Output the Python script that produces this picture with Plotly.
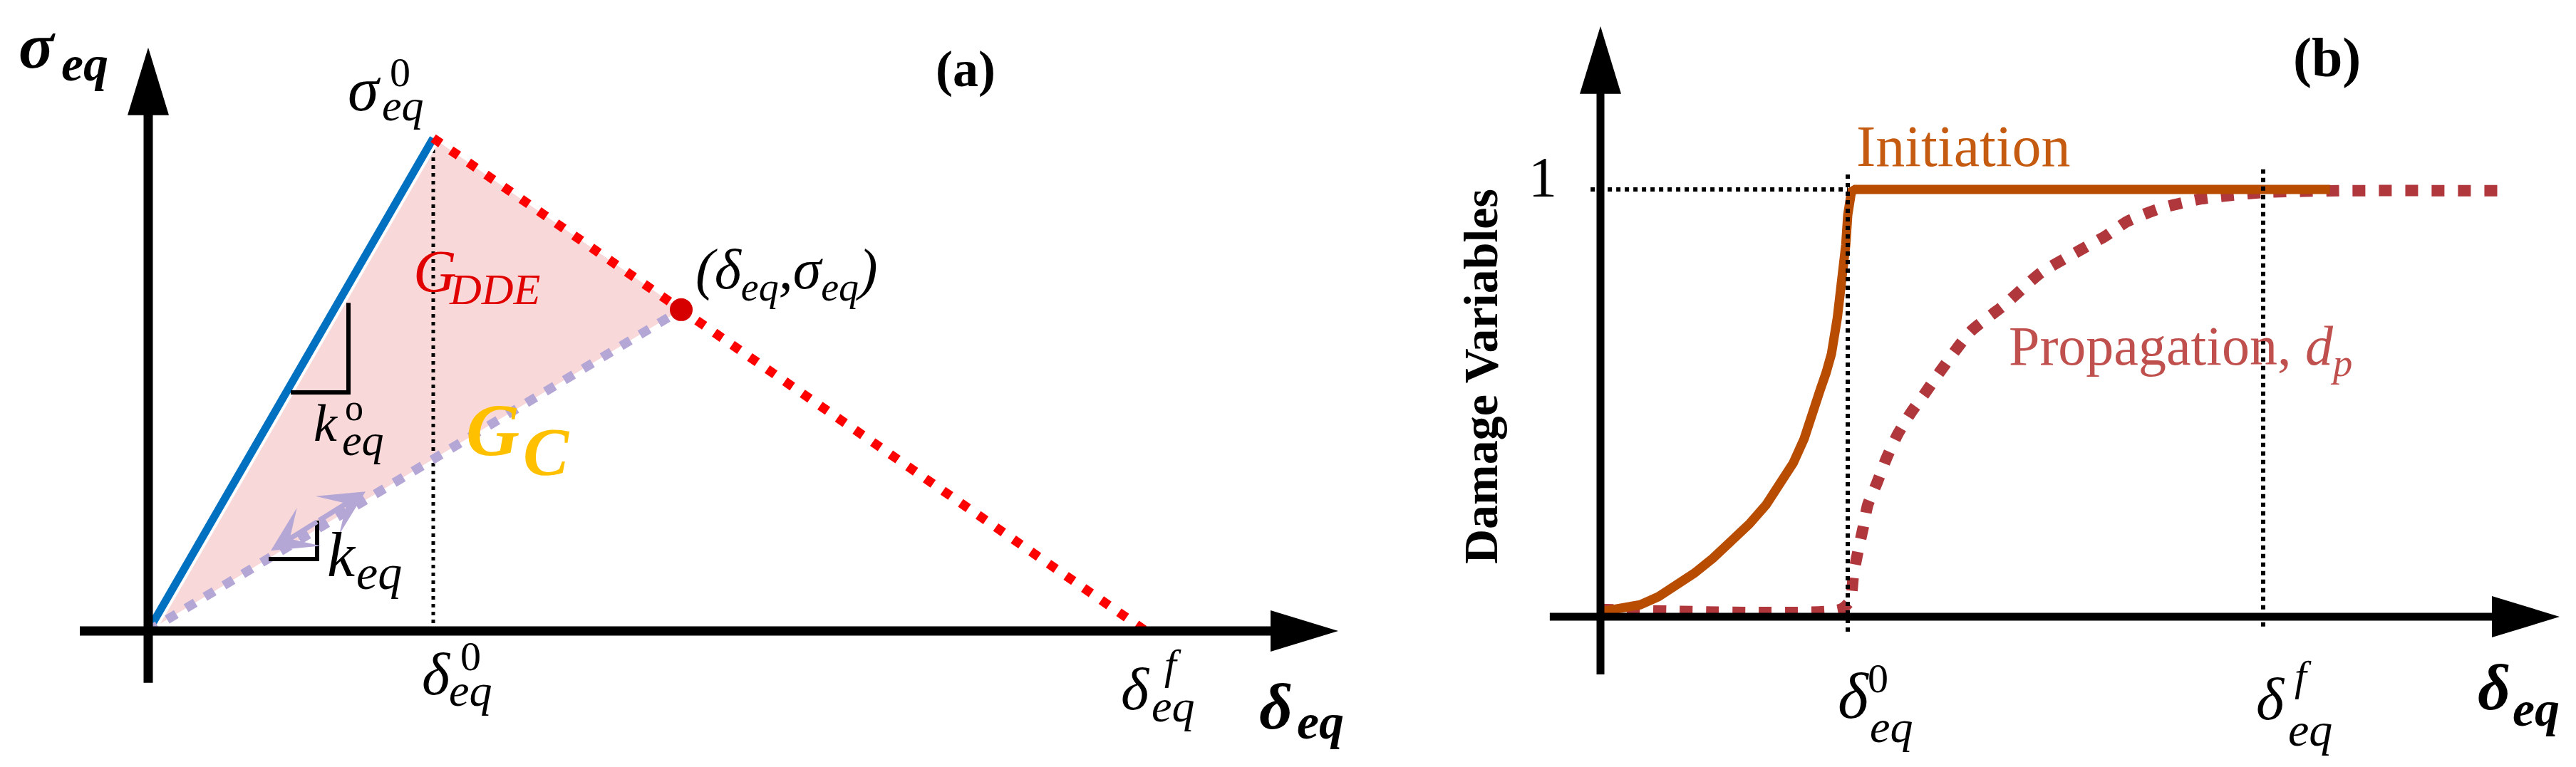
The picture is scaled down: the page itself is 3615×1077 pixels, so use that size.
import plotly.graph_objects as go

FIG_W, FIG_H = 3615, 1077
SERIF = "Liberation Serif"

# ---------------- Panel (a): traction-separation law ----------------
DELTA0_A = 1.0            # δ⁰_eq  (damage onset)
SIGMA0_A = 1.0            # σ⁰_eq  (onset stress)
DELTAF_A = 3.5            # δ^f_eq (final separation)
POINT_A_X = 1.87          # current state δ_eq
POINT_A_Y = 0.652         # current state σ_eq

ELASTIC_X = [0.0, DELTA0_A]
ELASTIC_Y = [0.0, SIGMA0_A]
SOFT_X = [DELTA0_A, DELTAF_A]
SOFT_Y = [SIGMA0_A, 0.0]
UNLOAD_X = [0.0, POINT_A_X]
UNLOAD_Y = [0.0, POINT_A_Y]
AREA_X = [0.0, DELTA0_A, POINT_A_X, 0.0]
AREA_Y = [0.0, SIGMA0_A, POINT_A_Y, 0.0]

AXIS_A_X = [-0.24, 4.175]
AXIS_A_Y = [-0.105, 1.184]

SLOPE0_X = [0.50, 0.7025, 0.7025]
SLOPE0_Y = [0.484, 0.484, 0.666]
SLOPE_X = [0.4225, 0.5925, 0.5925]
SLOPE_Y = [0.146, 0.146, 0.224]
ARROW_MID = (0.596, 0.223)
ARROW_UP = (0.7625, 0.283)
ARROW_DOWN = (0.43, 0.163)

# ---------------- Panel (b): damage variables ----------------
DELTA0_B = 1.0
DELTAF_B = 2.68
INIT_X = [0.0, 0.08, 0.161, 0.235, 0.308, 0.38, 0.455, 0.53, 0.602, 0.67, 0.732, 0.78, 0.824,
          0.858, 0.888, 0.912, 0.934, 0.958, 0.980, 0.992, 1.0, 1.006, 1.015, 1.03, 2.95]
INIT_Y = [0.012, 0.018, 0.028, 0.047, 0.073, 0.102, 0.137, 0.175, 0.217, 0.262, 0.313, 0.36, 0.417,
          0.47, 0.53, 0.57, 0.615, 0.70, 0.798, 0.87, 0.94, 0.975, 0.995, 1.0, 1.0]
PROP_X = [0.0, 0.97, 1.01, 1.023, 1.043, 1.063, 1.081, 1.118, 1.156, 1.202, 1.256, 1.311,
          1.375, 1.496, 1.634, 1.781, 1.937, 2.04, 2.13, 2.26, 2.43, 2.68, 3.0, 3.63]
PROP_Y = [0.017, 0.017, 0.038, 0.097, 0.158, 0.21, 0.262, 0.313, 0.37, 0.427, 0.478, 0.522,
          0.575, 0.667, 0.73, 0.805, 0.857, 0.89, 0.925, 0.955, 0.978, 0.993, 0.997, 0.997]
LEVEL_ONE = 1.0
LEVEL_X = [-0.04, DELTA0_B]
D0_GUIDE_Y = [-0.035, 1.04]
DF_GUIDE_Y = [-0.023, 1.052]
AXIS_B_X = [-0.205, 3.879]
AXIS_B_Y = [-0.135, 1.382]

# ---------------- layout geometry ----------------
XA_RANGE = [-0.5, 4.2]
YA_RANGE = [-0.28757, 1.26879]
XA_DOM = [0.0, 1880 / FIG_W]
XB_RANGE = [-0.97406, 3.96830]
YB_RANGE = [-0.365, 1.43]
XB_DOM = [1900 / FIG_W, 1.0]

def scale(rng, dom, total):
    return (dom[1] - dom[0]) * total / (rng[1] - rng[0])

SXA, SYA = scale(XA_RANGE, XA_DOM, FIG_W), scale(YA_RANGE, [0, 1], FIG_H)
SXB, SYB = scale(XB_RANGE, XB_DOM, FIG_W), scale(YB_RANGE, [0, 1], FIG_H)

HEAD_L, HEAD_W = 95, 29

fig = go.Figure()

# --- panel (a) traces
fig.add_trace(go.Scatter(x=AREA_X, y=AREA_Y, fill="toself", fillcolor="#f8d8d8",
                         line=dict(width=0), mode="lines", hoverinfo="skip", xaxis="x", yaxis="y"))
fig.add_trace(go.Scatter(x=[DELTA0_A, DELTA0_A], y=[0, SIGMA0_A], mode="lines",
                         line=dict(color="black", width=5, dash="5px,6px"), xaxis="x", yaxis="y"))
fig.add_trace(go.Scatter(x=ELASTIC_X, y=ELASTIC_Y, mode="lines",
                         line=dict(color="white", width=19), xaxis="x", yaxis="y"))
fig.add_trace(go.Scatter(x=ELASTIC_X, y=ELASTIC_Y, mode="lines",
                         line=dict(color="#0070c0", width=11), xaxis="x", yaxis="y"))
fig.add_trace(go.Scatter(x=SOFT_X, y=SOFT_Y, mode="lines",
                         line=dict(color="#ff0000", width=13, dash="13px,17px"), xaxis="x", yaxis="y"))
fig.add_trace(go.Scatter(x=UNLOAD_X, y=UNLOAD_Y, mode="lines",
                         line=dict(color="#b4a7d6", width=13, dash="15px,16px"), xaxis="x", yaxis="y"))
fig.add_trace(go.Scatter(x=[POINT_A_X], y=[POINT_A_Y], mode="markers",
                         marker=dict(color="#d60000", size=32), xaxis="x", yaxis="y"))
for sx_, sy_ in ((SLOPE0_X, SLOPE0_Y), (SLOPE_X, SLOPE_Y)):
    fig.add_trace(go.Scatter(x=sx_, y=sy_, mode="lines",
                             line=dict(color="black", width=6), xaxis="x", yaxis="y"))

# --- panel (b) traces
fig.add_trace(go.Scatter(x=PROP_X, y=PROP_Y, mode="lines", line_shape="spline",
                         line=dict(color="#b0373c", width=16, dash="18px,19px", smoothing=0.6),
                         xaxis="x2", yaxis="y2"))
fig.add_trace(go.Scatter(x=INIT_X, y=INIT_Y, mode="lines",
                         line=dict(color="#b84c00", width=13), xaxis="x2", yaxis="y2"))
fig.add_trace(go.Scatter(x=LEVEL_X, y=[LEVEL_ONE, LEVEL_ONE], mode="lines",
                         line=dict(color="black", width=6, dash="6px,6px"), xaxis="x2", yaxis="y2"))
fig.add_trace(go.Scatter(x=[DELTA0_B, DELTA0_B], y=D0_GUIDE_Y, mode="lines",
                         line=dict(color="black", width=6, dash="6px,6px"), xaxis="x2", yaxis="y2"))
fig.add_trace(go.Scatter(x=[DELTAF_B, DELTAF_B], y=DF_GUIDE_Y, mode="lines",
                         line=dict(color="black", width=6, dash="6px,6px"), xaxis="x2", yaxis="y2"))

# --- axes drawn as arrows (shapes)
shapes = []

def axis_arrows(xr, yr, ax_x, ax_y, sx, sy, lw):
    shapes.append(dict(type="line", xref=xr, yref=yr, x0=ax_x[0], y0=0, x1=ax_x[1] - (HEAD_L - 4) / sx, y1=0,
                       line=dict(color="black", width=lw), layer="above"))
    tx = ax_x[1]
    shapes.append(dict(type="path", xref=xr, yref=yr, layer="above", fillcolor="black", line=dict(width=0),
                       path=f"M{tx},0 L{tx - HEAD_L / sx},{HEAD_W / sy} L{tx - HEAD_L / sx},{-HEAD_W / sy} Z"))
    shapes.append(dict(type="line", xref=xr, yref=yr, x0=0, y0=ax_y[0], x1=0, y1=ax_y[1] - (HEAD_L - 4) / sy,
                       line=dict(color="black", width=lw), layer="above"))
    ty = ax_y[1]
    shapes.append(dict(type="path", xref=xr, yref=yr, layer="above", fillcolor="black", line=dict(width=0),
                       path=f"M0,{ty} L{-HEAD_W / sx},{ty - HEAD_L / sy} L{HEAD_W / sx},{ty - HEAD_L / sy} Z"))

axis_arrows("x", "y", AXIS_A_X, AXIS_A_Y, SXA, SYA, 13)
axis_arrows("x2", "y2", AXIS_B_X, AXIS_B_Y, SXB, SYB, 11)

# --- annotations
anns = []
for tip in (ARROW_UP, ARROW_DOWN):
    anns.append(dict(xref="x", yref="y", axref="x", ayref="y", x=tip[0], y=tip[1],
                     ax=ARROW_MID[0], ay=ARROW_MID[1], text="", showarrow=True,
                     arrowhead=3, arrowsize=1.5, arrowwidth=7, arrowcolor="#b4a7d6"))

def txt(left, baseline, text, size, color="black", italic=True, bold=False):
    bottom = baseline + 0.216 * size + 1
    anns.append(dict(xref="paper", yref="paper", x=left / FIG_W, y=1 - bottom / FIG_H,
                     xanchor="left", yanchor="bottom", showarrow=False, text=text,
                     font=dict(family=SERIF, size=size, color=color,
                               style="italic" if italic else "normal",
                               weight="bold" if bold else "normal")))

def ctxt(cx, baseline, text, size, color="black", italic=False, bold=False):
    bottom = baseline + 0.216 * size + 1
    anns.append(dict(xref="paper", yref="paper", x=cx / FIG_W, y=1 - bottom / FIG_H,
                     xanchor="center", yanchor="bottom", showarrow=False, text=text,
                     font=dict(family=SERIF, size=size, color=color,
                               style="italic" if italic else "normal",
                               weight="bold" if bold else "normal")))

# panel (a) labels
txt(16, 88, "σ", 92, bold=True)
txt(76, 106, "eq", 70, bold=True)
txt(478, 148, "σ", 88)
txt(526, 162, "eq", 62)
txt(537, 114, "0", 58, italic=False)
txt(570, 403, "G", 84, color="#e00000")
txt(620, 420, "DDE", 62, color="#e00000")
txt(644, 632, "G", 104, color="#ffc000", bold=True)
txt(724, 660, "C", 96, color="#ffc000", bold=True)
txt(430, 612, "k", 74)
txt(470, 632, "eq", 62)
txt(474, 583, "o", 52, italic=False)
txt(449, 802, "k", 88)
txt(490, 820, "eq", 68)
txt(582, 968, "δ", 84)
txt(620, 984, "eq", 64)
txt(636, 934, "0", 58, italic=False)
txt(1563, 989, "δ", 84)
txt(1606, 1006, "eq", 64)
txt(1624, 946, "f", 60)
txt(966, 410, "(δ<sub>eq</sub>,σ<sub>eq</sub>)", 80)
txt(1757, 1016, "δ", 92, bold=True)
txt(1810, 1030, "eq", 70, bold=True)
ctxt(1347, 114, "(a)", 72, bold=True)

# panel (b) labels
ctxt(2157, 269, "1", 80)
ctxt(2747, 226, "Initiation", 82, color="#c55a11")
txt(2809, 516, "Propagation, <i>d</i><sub><i>p</i></sub>", 78, color="#c0504d", italic=False)
txt(2569, 1001, "δ", 92)
txt(2614, 1035, "eq", 64)
txt(2611, 965, "0", 58, italic=False)
txt(3156, 1003, "δ", 84)
txt(3201, 1040, "eq", 66)
txt(3210, 962, "f", 60)
txt(3467, 989, "δ", 90, bold=True)
txt(3516, 1012, "eq", 70, bold=True)
ctxt(3257, 100, "(b)", 78, bold=True)
anns.append(dict(xref="paper", yref="paper", x=2070 / FIG_W, y=1 - 521 / FIG_H,
                 xanchor="center", yanchor="middle", showarrow=False, textangle=-90,
                 text="Damage Variables",
                 font=dict(family=SERIF, size=68, color="black", weight="bold")))

ax_common = dict(visible=False, showgrid=False, zeroline=False, fixedrange=True)
fig.update_layout(
    width=FIG_W, height=FIG_H,
    margin=dict(l=0, r=0, t=0, b=0),
    paper_bgcolor="white", plot_bgcolor="white",
    showlegend=False,
    xaxis=dict(domain=XA_DOM, range=XA_RANGE, **ax_common),
    yaxis=dict(domain=[0, 1], range=YA_RANGE, **ax_common),
    xaxis2=dict(domain=XB_DOM, range=XB_RANGE, anchor="y2", **ax_common),
    yaxis2=dict(domain=[0, 1], range=YB_RANGE, anchor="x2", **ax_common),
    shapes=shapes,
    annotations=anns,
)

fig.write_html("out.html")
